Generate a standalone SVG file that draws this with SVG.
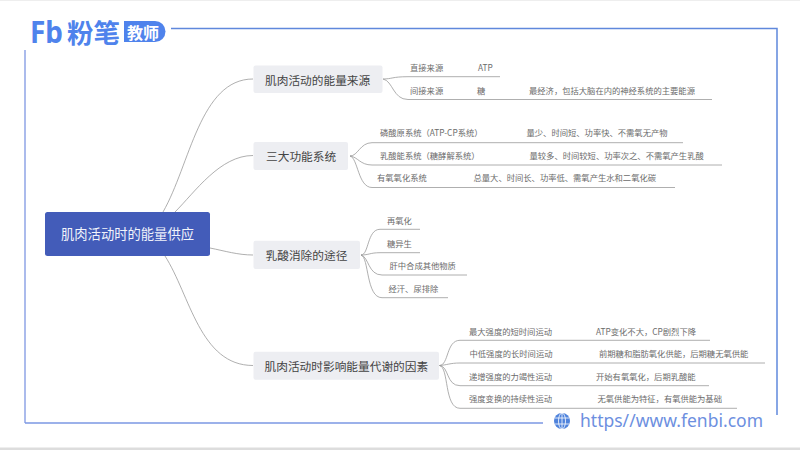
<svg xmlns="http://www.w3.org/2000/svg" width="800" height="450" viewBox="0 0 800 450">
<style>
text{font-family:"Noto Sans CJK SC","Noto Sans",sans-serif;dominant-baseline:central}
.topic{fill:#edeef2}
.tt{font-size:11.7px;fill:#444}
.lf{font-size:8.3px;fill:#6b6b6b}
.c{fill:none;stroke:#9a9a9a;stroke-width:.8}
.u{fill:none;stroke:#aaa;stroke-width:1}
</style>
<rect width="800" height="450" fill="#fff"/>
<rect width="800" height="1" fill="#eee"/>
<rect y="447.5" width="800" height="2.5" fill="#ddd"/>
<g id="frame" fill="none" stroke-width="1.5">
<path d="M171 28.5H777V190" stroke="#5f88dc"/>
<path d="M777 190V415" stroke="#5f88dc"/>
<path d="M25 50V423" stroke="#8fa5e6"/>
<path d="M25 423H543" stroke="#7b97e3"/>
</g>
<g id="logo">
<text x="30" y="31" font-size="30" font-weight="700" fill="#4f83ec" style="font-family:'Noto Sans',sans-serif" textLength="33" lengthAdjust="spacingAndGlyphs">Fb</text>
<text x="67" y="31.5" font-size="26.5" font-weight="700" fill="#4f83ec">粉笔</text>
<path d="M124 21H155a10.500 10.500 0 0 1 0 21H124Z" fill="#4f83ec"/>
<text x="127" y="31.500" font-size="16" font-weight="700" fill="#fff">教师</text>
</g>
<g id="url">
<circle cx="562" cy="421" r="8" fill="#4f83dc"/>
<g fill="none" stroke="#fff" stroke-width=".8"><ellipse cx="562" cy="421" rx="3.500" ry="8"/><path d="M562 413V429M554.500 418H569.500M554.500 424H569.500"/></g>
<text x="580" y="420" font-size="17.500" fill="#6d8fe0" style="font-family:'Noto Sans',sans-serif" textLength="183" lengthAdjust="spacing">https//www.fenbi.com</text>
</g>
<g id="connectors">
<path class="c" d="M163 212C190 165 200 79 253 79"/>
<path class="c" d="M175 212C195 192 220 155.500 253 155.500"/>
<path class="c" d="M210 248C225 251 238 255 253 255"/>
<path class="c" d="M165 256C190 295 200 365.500 253 365.500"/>
<path class="c" d="M383 79C392 79 392 76.700 408 76.700H500"/>
<path class="c" d="M383 79C393 81 393 99.500 408 99.500H712"/>
<path class="c" d="M350 156C358 156 360 142.700 372 142.700H683"/>
<path class="c" d="M350 156C358 157 360 165 372 165H722"/>
<path class="c" d="M350 156C358 158 358 187.500 372 187.500H675"/>
<path class="c" d="M361 255C369 255 367 229.300 380 229.300H420"/>
<path class="c" d="M361 255C369 255 370 252.700 380 252.700H420"/>
<path class="c" d="M361 255C369 257 368 275 382 275H467"/>
<path class="c" d="M361 255C369 257 366 297.700 382 297.700H448"/>
<path class="c" d="M439.500 365.500C449 365 446 340.300 460 340.300H710"/>
<path class="c" d="M439.500 365.500C447 365 450 363 460 363H765"/>
<path class="c" d="M439.500 365.500C449 366 446 385.700 460 385.700H709"/>
<path class="c" d="M439.500 365.500C449 367 444 408.300 460 408.300H737"/>
</g>
<g id="root"><rect x="45" y="212" width="165" height="44" rx="2.500" fill="#435cb9"/><text x="127.500" y="233" font-size="13.300" fill="#f1f3fb" text-anchor="middle">肌肉活动时的能量供应</text></g>
<g id="n1"><rect class="topic" x="253.500" y="65.500" width="129" height="27.500" rx="2"/><text class="tt" x="265" y="79">肌肉活动的能量来源</text></g>
<g id="n2"><rect class="topic" x="253.500" y="142" width="94.500" height="28" rx="2"/><text class="tt" x="266" y="155.500">三大功能系统</text></g>
<g id="n3"><rect class="topic" x="253.500" y="240.700" width="106.500" height="28.300" rx="2"/><text class="tt" x="265.500" y="254.500">乳酸消除的途径</text></g>
<g id="n4"><rect class="topic" x="253.500" y="351.700" width="185.500" height="28" rx="2"/><text class="tt" x="264.500" y="365.500">肌肉活动时影响能量代谢的因素</text></g>
<g id="l1"><text class="lf" x="410" y="66.500">直接来源</text><text class="lf" x="478" y="66.500">ATP</text></g>
<g id="l2"><text class="lf" x="410" y="89.500">间接来源</text><text class="lf" x="477" y="89.500">糖</text><text class="lf" x="529" y="89.500">最经济，包括大脑在内的神经系统的主要能源</text></g>
<g id="l3"><text class="lf" x="380" y="132">磷酸原系统（ATP-CP系统）</text><text class="lf" x="526.500" y="132">量少、时间短、功率快、不需氧无产物</text></g>
<g id="l4"><text class="lf" x="380" y="155">乳酸能系统（糖酵解系统）</text><text class="lf" x="529.500" y="155">量较多、时间较短、功率次之、不需氧产生乳酸</text></g>
<g id="l5"><text class="lf" x="377" y="177">有氧氧化系统</text><text class="lf" x="473.500" y="177">总量大、时间长、功率低、需氧产生水和二氧化碳</text></g>
<g id="l6"><text class="lf" x="387" y="220">再氧化</text></g>
<g id="l7"><text class="lf" x="387" y="243">糖异生</text></g>
<g id="l8"><text class="lf" x="389.500" y="265">肝中合成其他物质</text></g>
<g id="l9"><text class="lf" x="388.500" y="288">经汗、尿排除</text></g>
<g id="l10"><text class="lf" x="469" y="330.500">最大强度的短时间运动</text><text class="lf" x="596" y="330.500">ATP变化不大，CP剧烈下降</text></g>
<g id="l11"><text class="lf" x="469.500" y="353">中低强度的长时间运动</text><text class="lf" x="599" y="353">前期糖和脂肪氧化供能，后期糖无氧供能</text></g>
<g id="l12"><text class="lf" x="469" y="375.500">递增强度的力竭性运动</text><text class="lf" x="596" y="375.500">开始有氧氧化，后期乳酸能</text></g>
<g id="l13"><text class="lf" x="469" y="398">强度变换的持续性运动</text><text class="lf" x="597.500" y="398">无氧供能为特征，有氧供能为基础</text></g>
</svg>
